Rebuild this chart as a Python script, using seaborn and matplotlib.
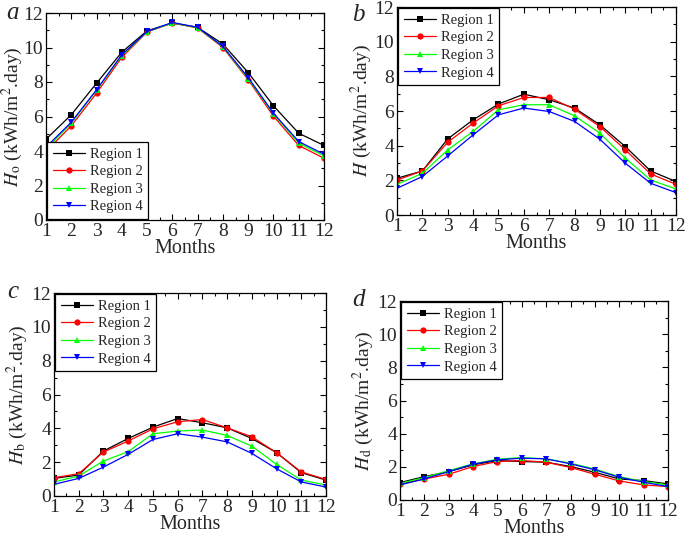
import pandas as pd
import numpy as np

import matplotlib
matplotlib.use("Agg")
import matplotlib.pyplot as plt
from matplotlib.ticker import MultipleLocator
import seaborn as sns


# ### Data (kWh/m2.day, months 1..12)
months = list(range(1, 13))
regions = ["Region 1", "Region 2", "Region 3", "Region 4"]

# a: extraterrestrial radiation Ho
ho_r1 = [4.68, 6.10, 7.93, 9.73, 10.97, 11.42, 11.17, 10.20, 8.55, 6.62, 5.03, 4.32]
ho_r2 = [3.97, 5.46, 7.35, 9.43, 10.90, 11.42, 11.13, 10.00, 8.13, 6.02, 4.32, 3.58]
ho_r3 = [4.10, 5.62, 7.52, 9.53, 10.92, 11.43, 11.15, 10.04, 8.20, 6.14, 4.45, 3.72]
ho_r4 = [4.22, 5.67, 7.55, 9.58, 10.93, 11.45, 11.17, 10.06, 8.26, 6.19, 4.55, 3.81]

# b: global radiation H
h_r1 = [2.12, 2.54, 4.39, 5.49, 6.40, 6.97, 6.65, 6.17, 5.20, 3.95, 2.54, 1.93]
h_r2 = [2.02, 2.54, 4.20, 5.30, 6.30, 6.78, 6.78, 6.10, 5.10, 3.76, 2.37, 1.77]
h_r3 = [1.77, 2.40, 3.76, 4.82, 6.07, 6.36, 6.36, 5.72, 4.72, 3.28, 2.02, 1.50]
h_r4 = [1.54, 2.22, 3.41, 4.62, 5.78, 6.17, 5.97, 5.40, 4.37, 2.99, 1.83, 1.29]

# c: beam radiation Hb
hb_r1 = [1.04, 1.24, 2.66, 3.40, 4.07, 4.58, 4.33, 4.03, 3.40, 2.56, 1.38, 0.94]
hb_r2 = [1.08, 1.32, 2.60, 3.25, 3.97, 4.39, 4.52, 4.03, 3.50, 2.56, 1.42, 0.98]
hb_r3 = [0.83, 1.18, 2.07, 2.62, 3.68, 3.84, 3.90, 3.58, 2.95, 1.87, 0.94, 0.65]
hb_r4 = [0.69, 1.04, 1.71, 2.46, 3.34, 3.68, 3.48, 3.20, 2.52, 1.61, 0.83, 0.53]

# d: diffuse radiation Hd
hd_r1 = [1.05, 1.41, 1.71, 2.12, 2.38, 2.32, 2.28, 2.02, 1.67, 1.27, 1.17, 0.97]
hd_r2 = [0.95, 1.27, 1.55, 2.02, 2.32, 2.38, 2.28, 1.96, 1.55, 1.15, 0.91, 0.81]
hd_r3 = [1.00, 1.35, 1.77, 2.18, 2.46, 2.56, 2.48, 2.22, 1.86, 1.41, 1.11, 0.91]
hd_r4 = [0.91, 1.27, 1.71, 2.16, 2.42, 2.52, 2.48, 2.18, 1.82, 1.37, 1.07, 0.81]


def long_df(series):
    # Stack the four region series into one long dataframe for seaborn
    frames = []
    for name, vals in zip(regions, series):
        frames.append(pd.DataFrame({"Month": months, "Value": vals, "Region": name}))
    return pd.concat(frames, ignore_index=True)


sns.set_theme(style="ticks")
plt.rcParams["font.family"] = ["Liberation Serif", "DejaVu Serif"]
plt.rcParams["mathtext.fontset"] = "stix"

palette = {"Region 1": "black", "Region 2": "#ff0000", "Region 3": "#00ff00", "Region 4": "#0000ff"}
markers = {"Region 1": "s", "Region 2": "o", "Region 3": "^", "Region 4": "v"}

W, H = 685, 537
fig = plt.figure(figsize=(W / 100, H / 100), dpi=100)

# letter, axes box in pixels (left, top, right, bottom), data, y label,
# legend loc, y label x (axes coords), letter position (pixels)
panels = [
    ("a", (46, 13, 324, 220), [ho_r1, ho_r2, ho_r3, ho_r4],
     r"$H_\mathrm{o}$ (kWh/m$^2$.day)", "lower left", -0.077, (12, 13)),
    ("b", (397, 7, 676, 215), [h_r1, h_r2, h_r3, h_r4],
     r"$H$ (kWh/m$^2$.day)", "upper left", -0.083, (358, 15)),
    ("c", (54, 293, 326, 496), [hb_r1, hb_r2, hb_r3, hb_r4],
     r"$H_\mathrm{b}$ (kWh/m$^2$.day)", "upper left", -0.09, (13, 292)),
    ("d", (400, 301, 668, 500), [hd_r1, hd_r2, hd_r3, hd_r4],
     r"$H_\mathrm{d}$ (kWh/m$^2$.day)", "upper left", -0.09, (358, 300)),
]

for letter, box, series, ylabel, loc, ylab_x, lpos in panels:
    l, t, r, b = box
    ax = fig.add_axes([l / W, 1 - b / H, (r - l) / W, (b - t) / H])
    df = long_df(series)
    sns.lineplot(data=df, x="Month", y="Value", hue="Region", style="Region",
                 palette=palette, markers=markers, dashes=False, linewidth=0.9,
                 markersize=4.5, markeredgewidth=0, ax=ax)

    ax.set_xlim(1, 12)
    ax.set_ylim(0, 12)
    ax.xaxis.set_major_locator(MultipleLocator(1))
    ax.xaxis.set_minor_locator(MultipleLocator(0.5))
    ax.yaxis.set_major_locator(MultipleLocator(2))
    ax.yaxis.set_minor_locator(MultipleLocator(1))
    ax.tick_params(which="both", direction="in", top=True, right=True,
                   labelsize=14, pad=2, color="black")
    ax.tick_params(which="major", length=4, width=0.8)
    ax.tick_params(which="minor", length=2.5, width=0.8)
    for sp in ax.spines.values():
        sp.set_linewidth(0.9)
        sp.set_color("black")

    ax.set_xlabel("Months", fontsize=14.5, labelpad=-0.5)
    ax.set_ylabel(ylabel, fontsize=14)
    ax.yaxis.set_label_coords(ylab_x, 0.5)

    leg = ax.legend(loc=loc, fontsize=10.5, frameon=True, fancybox=False,
                    edgecolor="black", framealpha=1, borderaxespad=0.1,
                    handlelength=2.2, handletextpad=0.35, labelspacing=0.3,
                    borderpad=0.35)
    leg.get_frame().set_linewidth(0.9)

    # panel letter, italic, left of the top-left corner
    fig.text(lpos[0] / W, 1 - lpos[1] / H, letter, fontsize=18,
             fontstyle="italic", ha="center", va="center")

fig.savefig("out.png", dpi=100)
